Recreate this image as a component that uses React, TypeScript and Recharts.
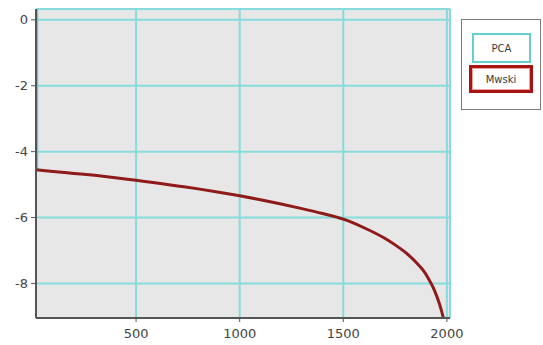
import React from "react";
import { LineChart, Line, XAxis, YAxis, CartesianGrid } from "recharts";

const mwskiX = [17, 100, 200, 300, 400, 500, 600, 700, 800, 900, 1000, 1100, 1200, 1300, 1400, 1500, 1600, 1700, 1750, 1800, 1850, 1885, 1910, 1934, 1950, 1966, 1983, 2000];
const mwskiY = [-4.55, -4.6, -4.66, -4.72, -4.79, -4.87, -4.95, -5.04, -5.13, -5.23, -5.34, -5.46, -5.59, -5.73, -5.88, -6.05, -6.31, -6.63, -6.83, -7.06, -7.35, -7.6, -7.84, -8.13, -8.37, -8.66, -9.05, -9.55];
const pcaX = [23, 23];
const pcaY = [0.5, -4.55];
const xTicks = [500, 1000, 1500, 2000];
const yTicks = [0, -2, -4, -6, -8];
const seriesNames = ["PCA", "Mwski"];
const seriesColors = ["#63cfcf", "#8e1a1a"];

const mwskiData = mwskiX.map((x, i) => ({ x, v: mwskiY[i] }));
const pcaData = pcaX.map((x, i) => ({ x, v: pcaY[i] }));

const FONT = "'DejaVu Sans', sans-serif";

const LegendBox = () => (
  <div
    style={{
      position: "absolute",
      left: 461,
      top: 19,
      width: 80,
      height: 91,
      border: "1px solid #7a7a7a",
      background: "#ffffff",
      boxSizing: "border-box",
      fontFamily: FONT,
      fontSize: 10,
      color: "#3a3a3a",
    }}
  >
    <div
      style={{
        position: "absolute",
        left: 10,
        top: 13,
        width: 59,
        height: 30,
        border: "2px solid " + seriesColors[0],
        boxSizing: "border-box",
        display: "flex",
        alignItems: "center",
        justifyContent: "center",
        background: "#fff",
      }}
    >
      {seriesNames[0]}
    </div>
    <div
      style={{
        position: "absolute",
        left: 7,
        top: 45,
        width: 64,
        height: 28,
        border: "3px solid #a81414",
        boxShadow: "inset 0 0 0 1px #f0a0a0",
        boxSizing: "border-box",
        display: "flex",
        alignItems: "center",
        justifyContent: "center",
        background: "#fff",
      }}
    >
      {seriesNames[1]}
    </div>
  </div>
);

export default function App() {
  return (
    <div style={{ position: "absolute", left: 0, top: 0, width: 543, height: 345, background: "#fff" }}>
      <LineChart width={543} height={345} margin={{ top: 9, right: 93, bottom: 0, left: 0 }}>
        <CartesianGrid
          stroke="#86dcdc"
          strokeWidth={2}
          fill="#e7e7e7"
          fillOpacity={1}
        />
        <XAxis
          dataKey="x"
          type="number"
          domain={[17, 2015]}
          ticks={xTicks}
          allowDataOverflow
          height={27}
          tickSize={4}
          tickMargin={7}
          axisLine={{ stroke: "#555", strokeWidth: 2 }}
          tickLine={{ stroke: "#555" }}
          tick={{ fill: "#444", fontSize: 13, fontFamily: FONT }}
        />
        <XAxis
          xAxisId="top"
          orientation="top"
          type="number"
          domain={[17, 2015]}
          height={0}
          tick={false}
          tickLine={false}
          axisLine={{ stroke: "#555", strokeWidth: 2 }}
        />
        <YAxis
          type="number"
          domain={[-9.05, 0.33]}
          ticks={yTicks}
          allowDataOverflow
          width={36}
          tickSize={5}
          tickMargin={3}
          axisLine={{ stroke: "#555", strokeWidth: 2 }}
          tickLine={{ stroke: "#555" }}
          tick={{ fill: "#444", fontSize: 13, fontFamily: FONT }}
        />
        <YAxis
          yAxisId="right"
          orientation="right"
          type="number"
          domain={[-9.05, 0.33]}
          width={0}
          tick={false}
          tickLine={false}
          axisLine={{ stroke: "#555", strokeWidth: 2 }}
        />
        <Line
          data={pcaData}
          dataKey="v"
          name={seriesNames[0]}
          stroke={seriesColors[0]}
          strokeWidth={2}
          dot={false}
          isAnimationActive={false}
        />
        <Line
          data={mwskiData}
          dataKey="v"
          name={seriesNames[1]}
          stroke={seriesColors[1]}
          strokeWidth={3}
          dot={false}
          type="monotone"
          isAnimationActive={false}
        />
      </LineChart>
      <LegendBox />
    </div>
  );
}
